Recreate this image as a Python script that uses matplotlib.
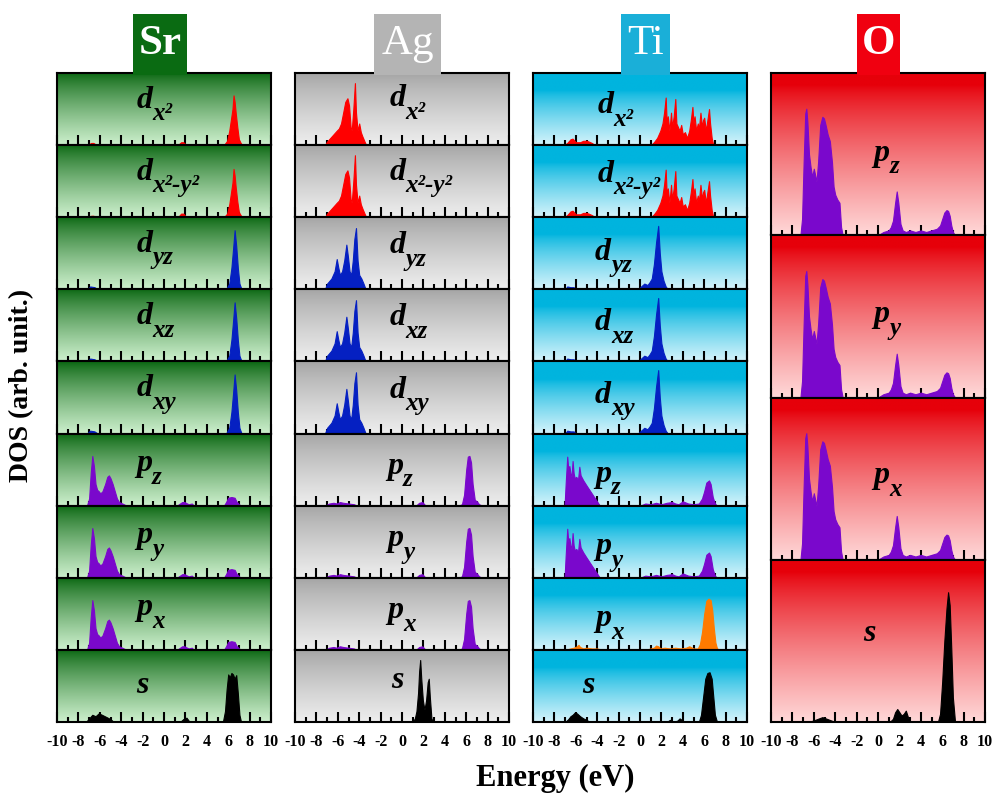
import matplotlib
matplotlib.use('Agg')
import matplotlib.pyplot as plt
from matplotlib.patches import Rectangle
from matplotlib.colors import to_rgb
import numpy as np

plt.rcParams['font.family'] = ['Liberation Serif', 'DejaVu Serif']
plt.rcParams['axes.unicode_minus'] = False

# ---------------- PDOS curves: energy (eV) and DOS (panel max = 1) ----------------
# Sr
sr_dz2_e = [-7.2, -6.8, -6.6, -6.3, 1.3, 1.6, 1.8, 2.1, 5.6, 5.9, 6.1, 6.25, 6.4, 6.5, 6.6, 6.7, 6.85, 7.0, 7.2, 7.5]
sr_dz2_d = [0.0, 0.03, 0.03, 0.0, 0.0, 0.04, 0.04, 0.0, 0.0, 0.06, 0.2, 0.35, 0.5, 0.69, 0.6, 0.45, 0.25, 0.08, 0.02, 0.0]
sr_dx2y2_e = [-7.2, -6.8, -6.6, -6.3, 1.3, 1.6, 1.8, 2.1, 5.6, 5.9, 6.1, 6.25, 6.4, 6.5, 6.6, 6.7, 6.85, 7.0, 7.2, 7.5]
sr_dx2y2_d = [0.0, 0.02, 0.02, 0.0, 0.0, 0.05, 0.05, 0.0, 0.0, 0.05, 0.18, 0.33, 0.48, 0.67, 0.58, 0.42, 0.22, 0.07, 0.02, 0.0]
sr_t2g_e = [-7.2, -6.9, -6.5, -6.2, 5.8, 6.1, 6.3, 6.45, 6.6, 6.75, 6.9, 7.05, 7.25, 7.5]
sr_t2g_d = [0.0, 0.04, 0.03, 0.0, 0.0, 0.08, 0.3, 0.55, 0.82, 0.6, 0.3, 0.08, 0.0, 0.0]
sr_p_e = [-7.2, -7.0, -6.85, -6.7, -6.55, -6.4, -6.25, -6.1, -5.95, -5.75, -5.5, -5.3, -5.15, -5.0,
          -4.8, -4.6, -4.4, -4.2, -3.9, -3.5, 1.2, 1.5, 1.7, 1.9, 2.3, 2.6, 2.8,
          5.6, 5.8, 6.0, 6.3, 6.6, 6.8, 7.0, 7.2, 7.5]
sr_p_d = [0.0, 0.1, 0.45, 0.69, 0.55, 0.3, 0.22, 0.2, 0.17, 0.2, 0.3, 0.4, 0.42, 0.38,
          0.3, 0.2, 0.1, 0.05, 0.03, 0.0, 0.0, 0.03, 0.05, 0.05, 0.02, 0.03, 0.0,
          0.0, 0.05, 0.11, 0.12, 0.11, 0.05, 0.02, 0.0, 0.0]
sr_s_e = [-7.3, -7.0, -6.7, -6.4, -6.1, -5.8, -5.4, -5.0, -4.7, 1.5, 1.8, 2.1, 2.4,
          5.5, 5.7, 5.85, 6.0, 6.15, 6.3, 6.45, 6.6, 6.75, 6.9, 7.05, 7.2]
sr_s_d = [0.0, 0.05, 0.1, 0.08, 0.12, 0.1, 0.07, 0.04, 0.0, 0.0, 0.04, 0.06, 0.0,
          0.0, 0.15, 0.45, 0.66, 0.62, 0.68, 0.66, 0.6, 0.65, 0.4, 0.1, 0.0]

# Ag
ag_eg_e = [-7.2, -7.0, -6.7, -6.4, -6.1, -5.9, -5.7, -5.5, -5.3, -5.1, -4.95, -4.8, -4.7, -4.55,
           -4.4, -4.3, -4.15, -4.0, -3.85, -3.7, -3.5, -3.35, 7.5]
ag_eg_d = [0.0, 0.05, 0.1, 0.15, 0.2, 0.23, 0.3, 0.45, 0.6, 0.65, 0.55, 0.25, 0.2, 0.5,
           0.86, 0.45, 0.2, 0.3, 0.18, 0.12, 0.05, 0.0, 0.0]
ag_t2g_e = [-7.2, -7.0, -6.6, -6.3, -6.1, -5.95, -5.8, -5.6, -5.4, -5.2, -5.05, -4.9, -4.75, -4.6,
            -4.45, -4.3, -4.15, -4.0, -3.8, -3.6, -3.4, 7.5]
ag_t2g_d = [0.0, 0.08, 0.15, 0.25, 0.42, 0.3, 0.2, 0.25, 0.4, 0.62, 0.45, 0.25, 0.2, 0.4,
            0.7, 0.85, 0.4, 0.2, 0.15, 0.08, 0.0, 0.0]
ag_p_e = [-7.2, -6.8, -6.4, -6.1, -5.8, -5.5, -5.0, -4.5, -4.2, 1.3, 1.6, 1.9, 2.2,
          5.3, 5.6, 5.8, 6.0, 6.15, 6.3, 6.45, 6.6, 6.8, 7.0, 7.2, 7.5]
ag_p_d = [0.0, 0.03, 0.04, 0.03, 0.05, 0.04, 0.03, 0.02, 0.0, 0.0, 0.04, 0.05, 0.0,
          0.0, 0.02, 0.15, 0.5, 0.68, 0.69, 0.6, 0.3, 0.08, 0.06, 0.02, 0.0]
ag_s_e = [1.0, 1.2, 1.35, 1.5, 1.6, 1.7, 1.8, 1.95, 2.1, 2.25, 2.4, 2.5, 2.6, 2.75, 2.9]
ag_s_d = [0.0, 0.05, 0.15, 0.4, 0.7, 0.86, 0.6, 0.3, 0.17, 0.3, 0.55, 0.6, 0.35, 0.05, 0.0]

# Ti
ti_eg_e = [-7.1, -6.8, -6.5, -6.3, -6.0, -5.6, -5.3, -5.0, -4.8, -4.5, -4.2,
           1.0, 1.3, 1.6, 1.9, 2.1, 2.25, 2.4, 2.5, 2.6, 2.75, 2.9, 3.0, 3.15, 3.3, 3.4,
           3.55, 3.7, 3.85, 4.0, 4.2, 4.4, 4.6, 4.75, 4.9, 5.0, 5.1, 5.25, 5.4, 5.5,
           5.65, 5.8, 5.9, 6.0, 6.15, 6.3, 6.45, 6.55, 6.7, 6.85, 7.5]
ti_eg_d = [0.0, 0.03, 0.08, 0.09, 0.04, 0.04, 0.06, 0.06, 0.05, 0.03, 0.0,
           0.0, 0.04, 0.1, 0.2, 0.3, 0.45, 0.66, 0.3, 0.4, 0.2, 0.45, 0.25, 0.4, 0.64, 0.3,
           0.25, 0.2, 0.28, 0.15, 0.18, 0.1, 0.2, 0.35, 0.53, 0.3, 0.4, 0.2, 0.3, 0.22,
           0.45, 0.25, 0.35, 0.38, 0.2, 0.35, 0.5, 0.3, 0.1, 0.0, 0.0]
ti_t2g_e = [-7.0, -6.8, -6.5, -6.2, -6.0, -0.2, 0.1, 0.4, 0.7, 0.9, 1.1, 1.3, 1.5, 1.7,
            1.85, 2.0, 2.2, 2.4, 2.6, 7.5]
ti_t2g_d = [0.0, 0.04, 0.03, 0.03, 0.0, 0.0, 0.04, 0.08, 0.06, 0.1, 0.15, 0.35, 0.65, 0.88,
            0.5, 0.25, 0.12, 0.04, 0.0, 0.0]
ti_p_e = [-7.05, -6.95, -6.8, -6.7, -6.6, -6.5, -6.4, -6.3, -6.2, -6.1, -5.95, -5.8, -5.67,
          -5.55, -5.3, -5.0, -4.6, -4.2, -3.75, 0.0, 0.5, 1.0, 1.5, 2.0, 2.5, 3.0, 3.3, 3.6,
          4.0, 4.5, 5.0, 5.5, 5.8, 6.0, 6.2, 6.45, 6.6, 6.8, 7.0, 7.2, 7.5]
ti_p_d = [0.0, 0.3, 0.68, 0.5, 0.55, 0.45, 0.4, 0.62, 0.45, 0.38, 0.4, 0.35, 0.54,
          0.42, 0.35, 0.28, 0.19, 0.1, 0.0, 0.0, 0.03, 0.02, 0.04, 0.02, 0.04, 0.05, 0.03, 0.02,
          0.06, 0.03, 0.02, 0.03, 0.1, 0.2, 0.32, 0.35, 0.3, 0.12, 0.03, 0.0, 0.0]
ti_px_e = [-7.0, -6.5, -6.2, -5.9, -5.75, -5.6, -5.3, -5.0, -4.5, -4.0, -3.5, 0.5, 1.0, 1.3,
           1.5, 1.7, 1.9, 2.3, 2.8, 3.3, 3.8, 4.3, 4.6, 5.0, 5.4, 5.6, 5.8, 6.0, 6.2, 6.4,
           6.6, 6.75, 6.9, 7.05, 7.2, 7.5]
ti_px_d = [0.0, 0.02, 0.03, 0.05, 0.07, 0.04, 0.02, 0.03, 0.02, 0.02, 0.0, 0.0, 0.02, 0.03,
           0.06, 0.05, 0.02, 0.03, 0.02, 0.03, 0.02, 0.03, 0.05, 0.02, 0.02, 0.08, 0.25, 0.5, 0.68, 0.71,
           0.69, 0.55, 0.3, 0.1, 0.02, 0.0]
ti_s_e = [-7.0, -6.7, -6.5, -6.3, -6.1, -5.9, -5.6, -5.3, -5.0, -4.7, 2.5, 2.8, 3.1, 3.5, 3.7,
          3.9, 4.2, 5.5, 5.7, 5.9, 6.1, 6.3, 6.5, 6.7, 6.85, 7.0, 7.2]
ti_s_d = [0.0, 0.04, 0.08, 0.1, 0.13, 0.12, 0.08, 0.05, 0.03, 0.0, 0.0, 0.03, 0.0, 0.02, 0.05,
          0.03, 0.0, 0.0, 0.1, 0.35, 0.6, 0.68, 0.69, 0.6, 0.35, 0.1, 0.0]

# O
o_p_e = [-7.25, -7.1, -6.95, -6.8, -6.7, -6.6, -6.45, -6.3, -6.15, -6.0, -5.9, -5.75, -5.6, -5.4,
         -5.2, -5.05, -4.9, -4.7, -4.5, -4.3, -4.15, -4.0, -3.8, -3.6, -3.45, -3.3,
         0.0, 0.5, 1.0, 1.2, 1.4, 1.6, 1.75, 1.9, 2.1, 2.3, 2.6, 3.0, 3.5, 4.0, 4.5, 5.0,
         5.5, 5.8, 6.0, 6.2, 6.4, 6.55, 6.7, 6.85, 7.0, 7.2]
o_p_d = [0.0, 0.1, 0.45, 0.75, 0.78, 0.7, 0.5, 0.42, 0.36, 0.41, 0.38, 0.33, 0.45, 0.68,
         0.73, 0.72, 0.68, 0.62, 0.58, 0.45, 0.3, 0.25, 0.22, 0.2, 0.05, 0.0,
         0.0, 0.02, 0.03, 0.05, 0.09, 0.2, 0.27, 0.2, 0.07, 0.03, 0.02, 0.03, 0.02, 0.03, 0.02, 0.03,
         0.04, 0.06, 0.1, 0.14, 0.155, 0.15, 0.12, 0.06, 0.02, 0.0]
o_s_e = [-6.5, -6.0, -5.6, -5.2, -4.8, -4.4, -4.0, 1.1, 1.4, 1.6, 1.8, 2.0, 2.2, 2.4, 2.6,
         2.8, 3.0, 5.6, 5.8, 6.0, 6.2, 6.4, 6.55, 6.7, 6.85, 7.0, 7.2]
o_s_d = [0.0, 0.01, 0.02, 0.03, 0.02, 0.01, 0.0, 0.0, 0.02, 0.06, 0.08, 0.06, 0.04, 0.05, 0.07,
         0.03, 0.0, 0.0, 0.05, 0.25, 0.5, 0.7, 0.8, 0.72, 0.45, 0.15, 0.0]

energy_ticks = list(range(-10, 11, 2))

RED, BLUE, PURPLE, BLACK, ORANGE = '#ff0000', '#0520c2', '#7a08cc', '#000000', '#ff7a00'

# row: (letter, subscript, energies, dos, colour, label x, label baseline y)
columns = [
    dict(name='Sr', head='#0a6b12', weight='bold', top='#06640d', bottom='#cdf0cd', solid=0.0,
         rows=[('d', 'x²', sr_dz2_e, sr_dz2_d, RED, 0.37, 0.52),
               ('d', 'x²-y²', sr_dx2y2_e, sr_dx2y2_d, RED, 0.37, 0.52),
               ('d', 'yz', sr_t2g_e, sr_t2g_d, BLUE, 0.37, 0.52),
               ('d', 'xz', sr_t2g_e, sr_t2g_d, BLUE, 0.37, 0.52),
               ('d', 'xy', sr_t2g_e, sr_t2g_d, BLUE, 0.37, 0.52),
               ('p', 'z', sr_p_e, sr_p_d, PURPLE, 0.37, 0.48),
               ('p', 'y', sr_p_e, sr_p_d, PURPLE, 0.37, 0.48),
               ('p', 'x', sr_p_e, sr_p_d, PURPLE, 0.37, 0.48),
               ('s', '', sr_s_e, sr_s_d, BLACK, 0.37, 0.40)]),
    dict(name='Ag', head='#b4b4b4', weight='normal', top='#a2a2a2', bottom='#eeeeee', solid=0.0,
         rows=[('d', 'x²', ag_eg_e, ag_eg_d, RED, 0.44, 0.54),
               ('d', 'x²-y²', ag_eg_e, ag_eg_d, RED, 0.44, 0.52),
               ('d', 'yz', ag_t2g_e, ag_t2g_d, BLUE, 0.44, 0.50),
               ('d', 'xz', ag_t2g_e, ag_t2g_d, BLUE, 0.44, 0.50),
               ('d', 'xy', ag_t2g_e, ag_t2g_d, BLUE, 0.44, 0.50),
               ('p', 'z', ag_p_e, ag_p_d, PURPLE, 0.43, 0.44),
               ('p', 'y', ag_p_e, ag_p_d, PURPLE, 0.43, 0.44),
               ('p', 'x', ag_p_e, ag_p_d, PURPLE, 0.43, 0.44),
               ('s', '', ag_s_e, ag_s_d, BLACK, 0.45, 0.47)]),
    dict(name='Ti', head='#1aafd8', weight='normal', top='#00b4de', bottom='#d4f3fb', solid=0.25,
         rows=[('d', 'x²', ti_eg_e, ti_eg_d, RED, 0.30, 0.44),
               ('d', 'x²-y²', ti_eg_e, ti_eg_d, RED, 0.30, 0.49),
               ('d', 'yz', ti_t2g_e, ti_t2g_d, BLUE, 0.29, 0.41),
               ('d', 'xz', ti_t2g_e, ti_t2g_d, BLUE, 0.29, 0.43),
               ('d', 'xy', ti_t2g_e, ti_t2g_d, BLUE, 0.29, 0.43),
               ('p', 'z', ti_p_e, ti_p_d, PURPLE, 0.29, 0.33),
               ('p', 'y', ti_p_e, ti_p_d, PURPLE, 0.29, 0.33),
               ('p', 'x', ti_px_e, ti_px_d, ORANGE, 0.29, 0.33),
               ('s', '', ti_s_e, ti_s_d, BLACK, 0.23, 0.40)]),
    dict(name='O', head='#f00010', weight='bold', top='#e6000a', bottom='#ffd8d8', solid=0.08,
         rows=[('p', 'z', o_p_e, o_p_d, PURPLE, 0.48, 0.46),
               ('p', 'y', o_p_e, o_p_d, PURPLE, 0.48, 0.465),
               ('p', 'x', o_p_e, o_p_d, PURPLE, 0.48, 0.47),
               ('s', '', o_s_e, o_s_d, BLACK, 0.43, 0.50)]),
]

# ---------------- layout (pixels) ----------------
W, H = 992, 795
COL_X = [57, 295, 533, 771]
COL_W = 214
TOP, BOTTOM = 73, 722
HEAD_BOX = [(133, 187), (374, 441), (621, 670), (857, 900)]
HEAD_TOP = 14


def gradient(top, bottom, solid):
    t = np.linspace(0, 1, 256)
    f = np.clip((t - solid) / (1 - solid), 0, 1) ** 0.8
    c0, c1 = np.array(to_rgb(top)), np.array(to_rgb(bottom))
    return (c0 + (c1 - c0) * f[:, None])[:, None, :]


def orbital_label(ax, x, y, letter, sub):
    t = ax.text(x, y, letter, transform=ax.transAxes, fontsize=23, fontweight='bold',
                fontstyle='italic', va='baseline', zorder=4)
    if sub:
        ax.annotate(sub, xy=(1, 0), xycoords=t, xytext=(0, -4), textcoords='offset points',
                    fontsize=18, fontweight='bold', fontstyle='italic', va='baseline', zorder=4)


fig = plt.figure(figsize=(W / 100, H / 100), dpi=100)

for ci, col in enumerate(columns):
    x0 = COL_X[ci]
    n = len(col['rows'])
    h = (BOTTOM - TOP) / n
    grad = gradient(col['top'], col['bottom'], col['solid'])
    for r, (letter, sub, e, d, color, lx, ly) in enumerate(col['rows']):
        top_px = TOP + r * h
        ax = fig.add_axes([x0 / W, 1 - (top_px + h) / H, COL_W / W, h / H])
        ax.imshow(grad, extent=[0, 1, 0, 1], transform=ax.transAxes, aspect='auto',
                  interpolation='bilinear', zorder=0)
        ax.fill_between(e, d, 0, color=color, lw=0.8, zorder=1)
        ax.set_xlim(-10, 10)
        ax.set_ylim(0, 1)
        ax.set_axisbelow(True)
        ax.set_xticks(energy_ticks)
        ax.set_xticks(range(-9, 10, 2), minor=True)
        ax.set_yticks([])
        ax.tick_params(which='both', direction='in', top=False, width=1.5, color='black')
        ax.tick_params(which='major', length=7)
        ax.tick_params(which='minor', length=3.5)
        ax.tick_params(axis='x', labelbottom=(r == n - 1), pad=9, labelsize=11.5)
        for lab in ax.get_xticklabels():
            lab.set_fontweight('bold')
        for sp in ax.spines.values():
            sp.set_linewidth(1.5)
        orbital_label(ax, lx, ly, letter, sub)

    # element header tab
    hx0, hx1 = HEAD_BOX[ci]
    fig.add_artist(Rectangle((hx0 / W, 1 - (TOP + 1.5) / H), (hx1 - hx0) / W,
                             (TOP + 1.5 - HEAD_TOP) / H, transform=fig.transFigure,
                             facecolor=col['head'], edgecolor='none', zorder=5))
    fig.text((hx0 + hx1) / 2 / W, 1 - (HEAD_TOP + TOP) / 2 / H, col['name'], color='white',
             fontsize=31, fontweight=col['weight'], ha='center', va='center', zorder=6)

fig.text(22 / W, 1 - 385 / H, 'DOS (arb. unit.)', rotation=90, fontsize=20, fontweight='bold',
         ha='center', va='center')
fig.text(555 / W, 1 - 778 / H, 'Energy (eV)', fontsize=22, fontweight='bold',
         ha='center', va='center')

fig.savefig('out.png', dpi=100)
